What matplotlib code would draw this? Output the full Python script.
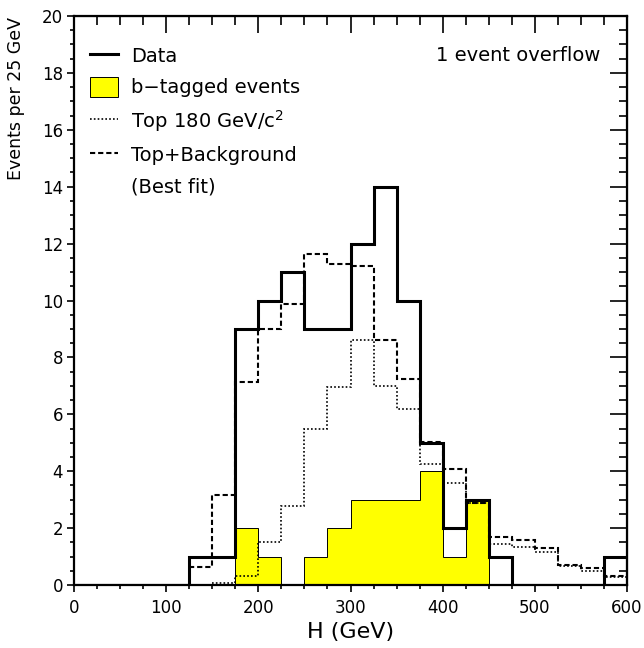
import numpy as np
import matplotlib
matplotlib.use('Agg')
import matplotlib.pyplot as plt
from matplotlib.lines import Line2D
from matplotlib.patches import Patch
from matplotlib.ticker import MultipleLocator

# bins of 25 GeV from 0 to 600
edges = np.arange(0, 625, 25)
data = [0, 0, 0, 0, 0, 1, 1, 9, 10, 11, 9, 9, 12, 14, 10, 5, 2, 3, 1, 0, 0, 0, 0, 1]
btag = [0, 0, 0, 0, 0, 0, 0, 2, 1, 0, 1, 2, 3, 3, 3, 4, 1, 3, 0, 0, 0, 0, 0, 0]
top180 = [0, 0, 0, 0, 0, 0, 0.06, 0.32, 1.52, 2.78, 5.5, 6.97, 8.61, 7.0, 6.17, 4.25,
          3.57, 2.87, 1.44, 1.35, 1.17, 0.67, 0.50, 0.29]
topbkg = [0, 0, 0, 0, 0, 0.62, 3.16, 7.15, 8.99, 9.88, 11.62, 11.27, 11.21, 8.61, 7.23, 5.04,
          4.07, 2.89, 1.68, 1.58, 1.29, 0.70, 0.59, 0.32]

plt.rcParams['font.family'] = ['DejaVu Sans']

fig = plt.figure(figsize=(6.44, 6.48), dpi=100)
ax = fig.add_axes([74/644, 63/648, 553/644, 569/648])

ax.stairs(btag, edges, fill=True, facecolor='#ffff00', edgecolor='black', linewidth=0.7, zorder=1)
ax.stairs(top180[6:], edges[6:], baseline=None, color='black', linewidth=1.2,
          linestyle=(0, (1, 1.3)), zorder=2)
ax.stairs(topbkg[5:], edges[5:], baseline=None, color='black', linewidth=1.5,
          linestyle=(0, (2.5, 1.4)), zorder=3)
ax.stairs(data, edges, color='black', linewidth=2.2, zorder=4)

ax.set_xlim(0, 600)
ax.set_ylim(0, 20)
ax.xaxis.set_major_locator(MultipleLocator(100))
ax.xaxis.set_minor_locator(MultipleLocator(25))
ax.yaxis.set_major_locator(MultipleLocator(2))
ax.yaxis.set_minor_locator(MultipleLocator(0.5))
ax.tick_params(which='both', direction='out', width=1.2, labelsize=12)
ax.tick_params(axis='x', which='major', length=5, pad=5)
ax.tick_params(axis='x', which='minor', length=3)
ax.tick_params(axis='y', which='major', length=5, pad=3)
ax.tick_params(axis='y', which='minor', length=3)
for s in ax.spines.values():
    s.set_linewidth(1.6)

# inward ticks on top and right
topax = ax.secondary_xaxis('top')
topax.xaxis.set_major_locator(MultipleLocator(100))
topax.xaxis.set_minor_locator(MultipleLocator(25))
topax.tick_params(which='both', direction='in', width=1.2, labeltop=False)
topax.tick_params(which='major', length=12)
topax.tick_params(which='minor', length=6.5)
rightax = ax.secondary_yaxis('right')
rightax.yaxis.set_major_locator(MultipleLocator(2))
rightax.yaxis.set_minor_locator(MultipleLocator(0.5))
rightax.tick_params(which='both', direction='in', width=1.2, labelright=False)
rightax.tick_params(which='major', length=12)
rightax.tick_params(which='minor', length=6)

ax.set_xlabel('H (GeV)', fontsize=16, va='center')
ax.xaxis.set_label_coords(0.5, -0.083)
ax.set_ylabel('Events per 25 GeV', fontsize=12.5)
ax.yaxis.set_label_coords(-0.088, 0.855)

handles = [
    Line2D([], [], color='black', linewidth=2.2),
    Patch(facecolor='#ffff00', edgecolor='black', linewidth=0.7),
    Line2D([], [], color='black', linewidth=1.2, linestyle=(0, (1, 1.3))),
    Line2D([], [], color='black', linewidth=1.5, linestyle=(0, (2.5, 1.4))),
    Line2D([], [], color='none'),
]
labels = ['Data', 'b\u2212tagged events', 'Top 180 GeV/c$^2$', 'Top+Background', '(Best fit)']
ax.legend(handles, labels, loc='upper left', bbox_to_anchor=(0.029, 0.948),
          frameon=False, fontsize=14, handlelength=1.45, handleheight=1.2,
          handletextpad=0.65, labelspacing=0.55, borderpad=0, borderaxespad=0)

ax.text(0.951, 0.93, '1 event overflow', transform=ax.transAxes, ha='right', va='center',
        fontsize=14)

fig.savefig('out.png', dpi=100, facecolor='white')
